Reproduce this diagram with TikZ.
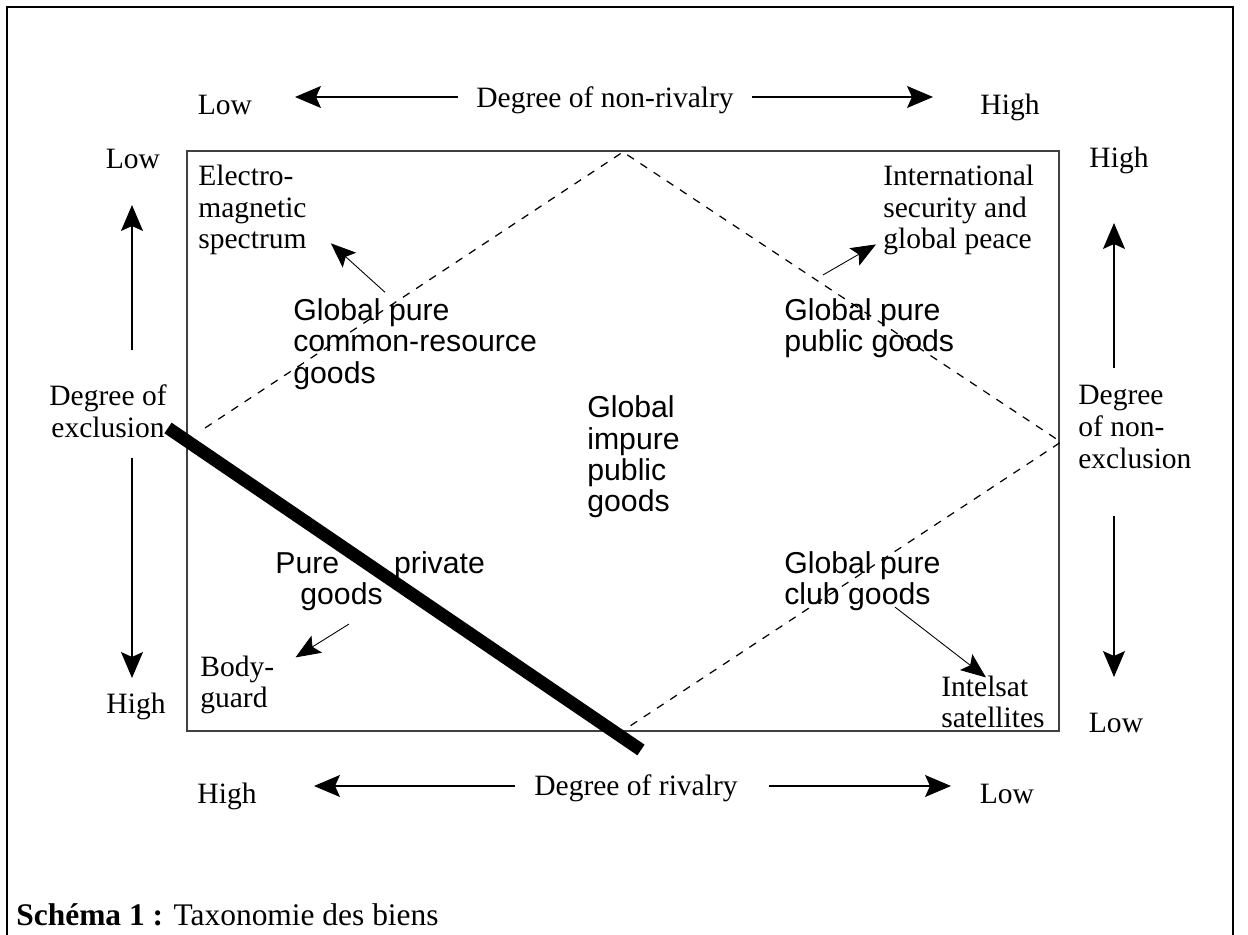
\documentclass[tikz,border=0pt]{standalone}
\usepackage{fontspec}
\setmainfont{Liberation Serif}
\setsansfont{Liberation Sans}
\usetikzlibrary{arrows.meta}

\begin{document}
\begin{tikzpicture}[x=0.02cm,y=-0.02cm,>={Stealth[length=0.52cm,width=0.44cm,inset=0.1cm]}]
\tikzstyle{lbl}=[inner sep=0pt,font=\fontsize{16.8}{18}\selectfont]
\tikzstyle{ml}=[lbl,align=left]
\tikzstyle{good}=[inner sep=0pt,align=left,font=\sffamily\fontsize{17.2}{17.8}\selectfont]
\tikzstyle{axarr}=[->,line width=0.6pt]
\tikzstyle{ptr}=[->,line width=0.5pt,>={Stealth[length=0.5cm,width=0.4cm,inset=0.1cm]}]
\useasboundingbox (0,0) rectangle (1248,935);
\draw[line width=1.3pt] (7,935) -- (7,7) -- (1233,7) -- (1233,935);

% axis labels
\node[lbl,anchor=base] (lowT) at (225,115) {Low};
\node[lbl,anchor=base] (nonriv) at (605,108) {Degree of non-rivalry};
\node[lbl,anchor=base] (highT) at (1010,115) {High};
\node[lbl,anchor=base] (highB) at (227,803) {High};
\node[lbl,anchor=base] (riv) at (636,795) {Degree of rivalry};
\node[lbl,anchor=base] (lowB) at (1007,803) {Low};
\node[lbl,anchor=base] (lowL) at (133,169) {Low};
\node[lbl,anchor=base] (highL) at (136,713) {High};
\node[lbl,anchor=base] (highR) at (1119,168) {High};
\node[lbl,anchor=base] (lowR) at (1116,732) {Low};
\node[lbl,align=center] (excl) at (108,411) {Degree of\\exclusion};
\node[ml,anchor=west] (nexcl) at (1078,427) {Degree\\of non-\\exclusion};

% axis arrow tips
\coordinate (tNL) at (295,97);
\coordinate (tNH) at (933,97);
\coordinate (tRH) at (314,786);
\coordinate (tRL) at (951,786);
\coordinate (tEL) at (132,205);
\coordinate (tEH) at (132,678);
\coordinate (tNEH) at (1114,223);
\coordinate (tNEL) at (1114,677);

\draw[axarr,shorten <=0.36cm] (nonriv.west |- tNL) -- (tNL);
\draw[axarr,shorten <=0.36cm] (nonriv.east |- tNH) -- (tNH);
\draw[axarr,shorten <=0.38cm] (riv.west |- tRH) -- (tRH);
\draw[axarr,shorten <=0.62cm] (riv.east |- tRL) -- (tRL);
\draw[axarr,shorten <=0.68cm] (tEL |- excl.north) -- (tEL);
\draw[axarr,shorten <=0.4cm] (tEH |- excl.south) -- (tEH);
\draw[axarr,shorten <=0.34cm] (tNEH |- nexcl.north) -- (tNEH);
\draw[axarr,shorten <=0.94cm] (tNEL |- nexcl.south) -- (tNEL);

% the space of goods
\draw[line width=0.7pt,black!75] (187,151) rectangle (1059,731);
\draw[dashed,dash pattern=on 4.5pt off 4.5pt,line width=0.7pt]
  (205,428) -- (623,152) -- (1061,442) -- (627,728);
\draw[line width=7.3pt] (168,428) -- (641,750);

% examples and classes
\node[ml,anchor=west] (electro) at (198,210) {Electro-\\magnetic\\spectrum};
\node[ml,anchor=west] (intl) at (883,210) {International\\security and\\global peace};
\node[ml,anchor=west] (body) at (200,685) {Body-\\guard};
\node[ml,anchor=west] (intelsat) at (941,702) {Intelsat\\satellites};
\node[good,anchor=west] (gpcr) at (293,344) {Global pure\\common-resource\\goods};
\node[good,anchor=west] (gpp) at (784,328) {Global pure\\public goods};
\node[good,anchor=west] (gip) at (587,457) {Global\\impure\\public\\goods};
\node[good,anchor=west] (pure) at (275,581) {Pure\hspace{1.1cm}private\\\hspace{0.5cm}goods};
\node[good,anchor=west] (gpclub) at (784,581) {Global pure\\club goods};

\draw[ptr] ([shift={(92,-6)}]gpcr.north west) -- ([shift={(24,-12)}]electro.south east);
\draw[ptr] ([shift={(39,-23)}]gpp.north west) -- ([shift={(-7,-11)}]intl.south west);
\draw[ptr] ([shift={(74,13)}]pure.south west) -- ([shift={(21,2)}]body.north east);
\draw[ptr] ([shift={(111,-4)}]gpclub.south west) -- ([shift={(45,2)}]intelsat.north west);

% caption
\node[inner sep=0pt,anchor=base west,font=\fontsize{17.9}{19}\selectfont] (cap) at (16,925)
  {\textbf{Schéma 1 :} Taxonomie des biens};
\end{tikzpicture}
\end{document}
